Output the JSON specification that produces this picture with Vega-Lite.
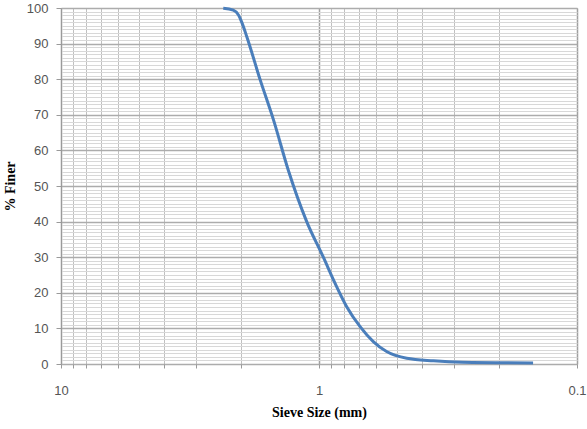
{
  "$schema": "https://vega.github.io/schema/vega-lite/v6.json",
  "width": 516,
  "height": 356,
  "autosize": {"type": "none"},
  "padding": {"left": 61, "top": 8, "right": 10, "bottom": 65},
  "background": "white",
  "config": {
    "view": {"stroke": "#b8b8b8", "strokeWidth": 1},
    "axis": {"labelFont": "Liberation Sans", "titleFont": "Liberation Serif"}
  },
  "data": {
    "values": [
      {"size": 2.35, "finer": 99.9},
      {"size": 2.15, "finer": 99.4},
      {"size": 2.05, "finer": 98.0},
      {"size": 1.995, "finer": 96.1},
      {"size": 1.906, "finer": 92.0},
      {"size": 1.69, "finer": 79.8},
      {"size": 1.5, "finer": 68.5},
      {"size": 1.316, "finer": 54.5},
      {"size": 1.116, "finer": 40.0},
      {"size": 0.962, "finer": 30.0},
      {"size": 0.867, "finer": 22.7},
      {"size": 0.781, "finer": 16.1},
      {"size": 0.693, "finer": 10.5},
      {"size": 0.616, "finer": 6.3},
      {"size": 0.547, "finer": 3.5},
      {"size": 0.457, "finer": 1.6},
      {"size": 0.36, "finer": 0.9},
      {"size": 0.277, "finer": 0.5},
      {"size": 0.148, "finer": 0.3}
    ]
  },
  "mark": {"type": "line", "color": "#4a7ebb", "strokeWidth": 3, "interpolate": "monotone"},
  "encoding": {
    "x": {
      "field": "size",
      "type": "quantitative",
      "scale": {"type": "log", "domain": [0.1, 10], "reverse": true, "nice": false},
      "axis": {
        "title": "Sieve Size (mm)",
        "titleFontSize": 14,
        "titleFontWeight": "bold",
        "titleColor": "#000000",
        "titlePadding": 8,
        "values": [0.1, 0.2, 0.3, 0.4, 0.5, 0.6, 0.7, 0.8, 0.9, 1, 2, 3, 4, 5, 6, 7, 8, 9, 10],
        "labelExpr": "datum.value === 10 ? '10' : datum.value === 1 ? '1' : datum.value === 0.1 ? '0.1' : ''",
        "labelOverlap": false,
        "labelBound": false,
        "labelFlush": false,
        "labelFontSize": 13,
        "labelColor": "#555555",
        "labelPadding": 16,
        "domain": false,
        "ticks": true,
        "tickSize": 4,
        "tickColor": "#9a9a9a",
        "grid": true,
        "gridColor": {"condition": {"test": "datum.value === 1 || datum.value === 0.1 || datum.value === 10", "value": "#a0a0a0"}, "value": "#c0c0c0"},
        "gridWidth": {"condition": {"test": "datum.value === 1 || datum.value === 0.1 || datum.value === 10", "value": 1.5}, "value": 1}
      }
    },
    "y": {
      "field": "finer",
      "type": "quantitative",
      "scale": {"domain": [0, 100], "nice": false},
      "axis": {
        "title": "% Finer",
        "titleFontSize": 14,
        "titleFontWeight": "bold",
        "titleColor": "#000000",
        "titlePadding": 9,
        "values": [0,1,2,3,4,5,6,7,8,9,10,11,12,13,14,15,16,17,18,19,20,21,22,23,24,25,26,27,28,29,30,31,32,33,34,35,36,37,38,39,40,41,42,43,44,45,46,47,48,49,50,51,52,53,54,55,56,57,58,59,60,61,62,63,64,65,66,67,68,69,70,71,72,73,74,75,76,77,78,79,80,81,82,83,84,85,86,87,88,89,90,91,92,93,94,95,96,97,98,99,100],
        "labelExpr": "datum.value % 10 === 0 ? datum.label : ''",
        "labelOverlap": false,
        "labelFontSize": 13,
        "labelColor": "#555555",
        "labelPadding": 8,
        "domain": true,
        "domainColor": "#9a9a9a",
        "ticks": true,
        "tickSize": 5,
        "tickColor": "#9a9a9a",
        "tickOpacity": {"condition": {"test": "datum.value % 10 === 0", "value": 1}, "value": 0},
        "grid": true,
        "gridColor": {"condition": {"test": "datum.value % 10 === 0", "value": "#acacac"}, "value": "#d8d8d8"},
        "gridWidth": {"condition": {"test": "datum.value % 10 === 0", "value": 1.5}, "value": 1}
      }
    }
  }
}
